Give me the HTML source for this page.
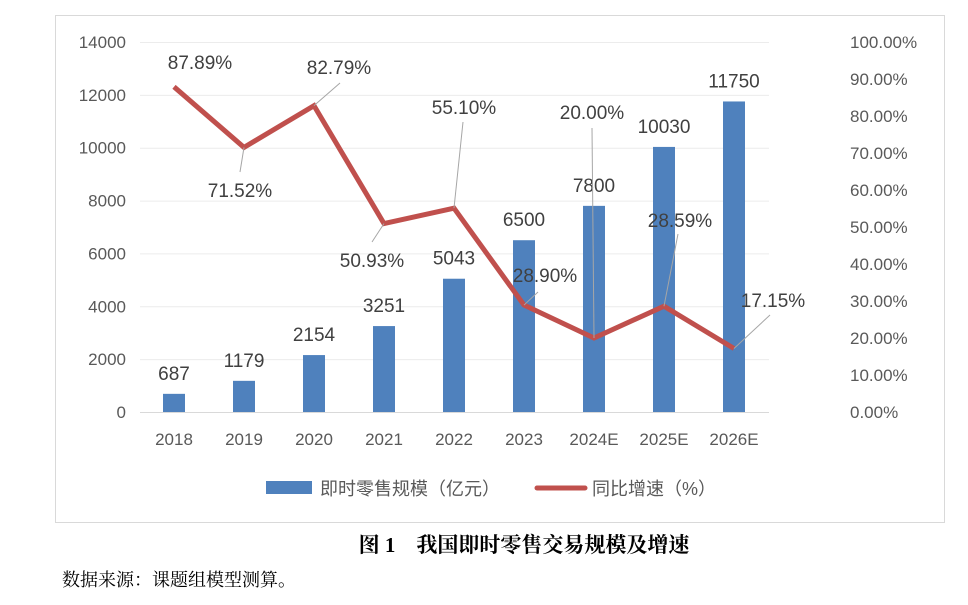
<!DOCTYPE html>
<html><head><meta charset="utf-8"><style>
body{margin:0;background:#fff;width:968px;height:600px;overflow:hidden;font-family:"Liberation Sans","Noto Sans CJK SC",sans-serif}
</style></head><body>
<svg width="968" height="600" font-family="Liberation Sans, Noto Sans CJK SC, sans-serif">
<rect x="55.5" y="15.5" width="889" height="507" fill="#fff" stroke="#d9d9d9"/>
<g id="grid"></g><g id="bars"></g><g id="line"></g><g id="labels"></g>
<g>
<rect x="266" y="481" width="46" height="13" fill="#4f81bd"/>
<text x="320" y="495" font-size="18" fill="#595959">即时零售规模（亿元）</text>
<line x1="537" y1="488" x2="585" y2="488" stroke="#c0504d" stroke-width="5" stroke-linecap="round"/>
<text x="592" y="495" font-size="18" fill="#595959">同比增速（%）</text>
</g>
<text x="524" y="552" font-size="21" font-weight="bold" text-anchor="middle" fill="#000" font-family="Liberation Serif, Noto Serif CJK SC, serif">图 1　我国即时零售交易规模及增速</text>
<text x="62" y="586" font-size="18" fill="#000" font-family="Liberation Serif, Noto Serif CJK SC, serif">数据来源：课题组模型测算。</text>
</svg>
<script>
const categories=["2018","2019","2020","2021","2022","2023","2024E","2025E","2026E"];
const scale=[687,1179,2154,3251,5043,6500,7800,10030,11750];
const growth=[87.89,71.52,82.79,50.93,55.10,28.90,20.00,28.59,17.15];
const leftTicks=[0,2000,4000,6000,8000,10000,12000,14000];
const rightTicks=[0,10,20,30,40,50,60,70,80,90,100];
const labelPos=[[200,62,null],[240,190,[240,172]],[339,67,[340,83]],[372,260,[372,242]],[464,107,[463,122]],[545,275,[538,292]],[592,112,[592,128]],[680,220,[678,234]],[773,300,[770,315]]];
const NS="http://www.w3.org/2000/svg";
const y0=412,yTop=42,xL=140,step=70,x0=174;
const xS=i=>x0+i*step;
const yL=v=>y0-(v/14000)*(y0-yTop);
const yR=v=>y0-(v/100)*(y0-yTop);
function mk(t,a,p,txt){const e=document.createElementNS(NS,t);for(const k in a)e.setAttribute(k,a[k]);if(txt!==undefined)e.textContent=txt;p.appendChild(e);return e;}
const G=document.getElementById('grid');
leftTicks.forEach(v=>{
 const l=mk('line',{x1:xL,x2:769,y1:yL(v)+.5,y2:yL(v)+.5,stroke:v===0?'#d9d9d9':'#ececec'},G);
 
 
 const t=mk('text',{x:126,y:yL(v)+6,'text-anchor':'end','font-size':17,fill:'#595959'},G,String(v));
 
 
});
rightTicks.forEach(v=>{
 const t=mk('text',{x:850,y:yR(v)+6,'font-size':17,fill:'#595959'},G,v.toFixed(2)+'%');
 
 
});
const B=document.getElementById('bars');
categories.forEach((c,i)=>{
 const r=mk('rect',{x:xS(i)-11,y:yL(scale[i]),width:22,height:y0-yL(scale[i]),fill:'#4f81bd'},B);
 
 
 const t=mk('text',{x:xS(i),y:yL(scale[i])-14,'text-anchor':'middle','font-size':19,fill:'#404040'},B,String(scale[i]));
 
 
 const xt=mk('text',{x:xS(i),y:445,'text-anchor':'middle','font-size':17,fill:'#595959'},B,c);
 
 
});
const L=document.getElementById('line');
const pl=mk('polyline',{points:growth.map((v,i)=>xS(i)+','+yR(v)).join(' '),fill:'none',stroke:'#c0504d','stroke-width':5,'stroke-linejoin':'miter'},L);


const LB=document.getElementById('labels');
growth.forEach((v,i)=>{
 const p=labelPos[i];
 if(p[2]){const ld=mk('line',{x1:xS(i),y1:yR(v),x2:p[2][0],y2:p[2][1],stroke:'#a6a6a6','stroke-width':1},LB);
  
  }
 const t=mk('text',{x:p[0],y:p[1]+7,'text-anchor':'middle','font-size':19,fill:'#404040'},LB,v.toFixed(2)+'%');
 
 
});
</script>
</body></html>
